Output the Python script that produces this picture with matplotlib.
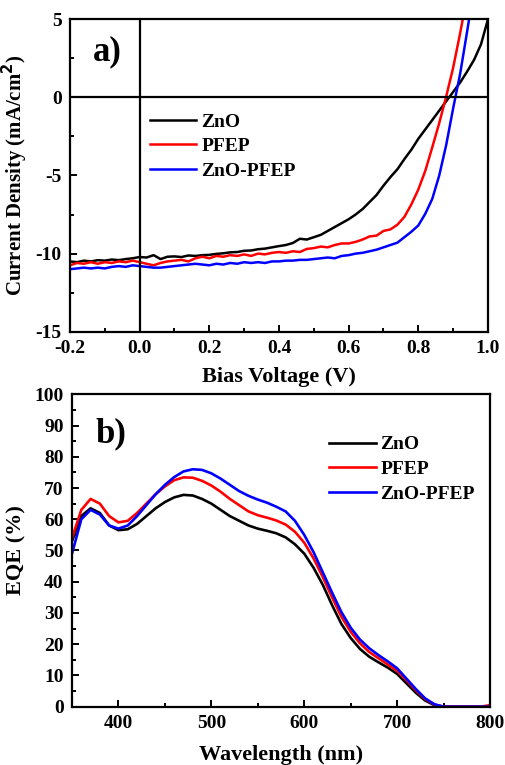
import numpy as np
import matplotlib
matplotlib.use('Agg')
import matplotlib.pyplot as plt
from matplotlib.ticker import MultipleLocator

plt.rcParams['font.family'] = ['Liberation Serif', 'DejaVu Serif']
plt.rcParams['font.weight'] = 'bold'
plt.rcParams['mathtext.default'] = 'bf'
plt.rcParams['axes.unicode_minus'] = False

# J-V data (bias voltage in V, current density in mA/cm2)
voltage = [-0.20, -0.18, -0.16, -0.14, -0.12, -0.10, -0.08, -0.06, -0.04, -0.02,
           0.00, 0.02, 0.04, 0.06, 0.08, 0.10, 0.12, 0.14, 0.16, 0.18,
           0.20, 0.22, 0.24, 0.26, 0.28, 0.30, 0.32, 0.34, 0.36, 0.38,
           0.40, 0.42, 0.44, 0.46, 0.48, 0.50, 0.52, 0.54, 0.56, 0.58,
           0.60, 0.62, 0.64, 0.66, 0.68, 0.70, 0.72, 0.74, 0.76, 0.78,
           0.80, 0.82, 0.84, 0.86, 0.88, 0.90, 0.92, 0.94, 0.96, 0.98, 1.00]
j_zno = [-10.50, -10.55, -10.45, -10.50, -10.42, -10.45, -10.38, -10.42, -10.35, -10.30,
         -10.22, -10.25, -10.10, -10.35, -10.20, -10.18, -10.22, -10.12, -10.15, -10.10,
         -10.08, -10.02, -9.98, -9.92, -9.90, -9.82, -9.80, -9.72, -9.68, -9.60,
         -9.52, -9.45, -9.32, -9.05, -9.10, -8.95, -8.80, -8.55, -8.30, -8.05,
         -7.80, -7.50, -7.15, -6.70, -6.25, -5.65, -5.10, -4.60, -3.95, -3.35,
         -2.65, -2.05, -1.45, -0.85, -0.25, 0.35, 0.95, 1.65, 2.40, 3.40, 5.00]
j_pfep = [-10.75, -10.60, -10.65, -10.55, -10.65, -10.55, -10.60, -10.50, -10.55, -10.45,
          -10.55, -10.65, -10.75, -10.60, -10.50, -10.45, -10.40, -10.50, -10.30, -10.20,
          -10.30, -10.15, -10.20, -10.10, -10.15, -10.05, -10.15, -10.00, -10.05, -9.95,
          -9.90, -9.95, -9.85, -9.90, -9.70, -9.65, -9.55, -9.60, -9.45, -9.35,
          -9.35, -9.25, -9.10, -8.90, -8.85, -8.55, -8.45, -8.15, -7.65, -6.85,
          -5.90, -4.70, -3.20, -1.65, 0.05, 1.90, 4.10, 6.50, 9.00, 11.50, 14.00]
j_zno_pfep = [-11.00, -10.95, -10.90, -10.95, -10.90, -10.95, -10.85, -10.80, -10.85, -10.75,
              -10.80, -10.85, -10.90, -10.90, -10.85, -10.80, -10.75, -10.70, -10.65, -10.70,
              -10.75, -10.65, -10.70, -10.60, -10.65, -10.55, -10.60, -10.55, -10.60, -10.50,
              -10.50, -10.45, -10.45, -10.40, -10.40, -10.35, -10.30, -10.25, -10.30, -10.15,
              -10.10, -10.00, -9.95, -9.85, -9.75, -9.60, -9.45, -9.30, -8.95, -8.60,
              -8.20, -7.45, -6.50, -5.00, -3.05, -0.70, 1.50, 4.20, 7.00, 10.00, 13.00]

# EQE data (wavelength in nm, EQE in %)
wavelength = [350, 360, 370, 380, 390, 400, 410, 420, 430, 440, 450, 460, 470, 480, 490,
              500, 510, 520, 530, 540, 550, 560, 570, 580, 590, 600, 610, 620, 630, 640,
              650, 660, 670, 680, 690, 700, 710, 720, 730, 740, 750, 760, 770, 780, 790, 800]
eqe_zno = [53.0, 61.0, 63.5, 62.0, 58.0, 56.5, 56.8, 58.5, 61.0, 63.5, 65.5, 67.0, 67.8, 67.6, 66.5,
           65.0, 63.0, 61.0, 59.5, 58.0, 57.0, 56.3, 55.5, 54.2, 52.0, 49.0, 44.5, 39.0, 32.5, 26.5,
           22.0, 18.5, 16.0, 14.2, 12.5, 10.5, 7.5, 4.5, 2.0, 0.5, 0.0, 0.0, 0.0, 0.0, 0.0, 0.0]
eqe_pfep = [54.0, 63.0, 66.5, 65.0, 61.0, 59.0, 59.5, 62.0, 65.0, 68.0, 70.5, 72.5, 73.4, 73.3, 72.3,
            70.8, 68.8, 66.5, 64.5, 62.5, 61.3, 60.5, 59.6, 58.3, 56.0, 52.5, 47.5, 41.5, 35.0, 28.8,
            24.0, 20.3, 17.5, 15.5, 13.5, 11.5, 8.5, 5.3, 2.5, 0.7, 0.0, 0.0, 0.0, 0.0, 0.0, 0.5]
eqe_zno_pfep = [49.0, 60.0, 63.0, 61.5, 58.0, 57.0, 58.0, 61.0, 64.5, 68.0, 71.0, 73.5, 75.3, 76.0, 75.8,
                74.7, 73.0, 71.0, 69.0, 67.5, 66.3, 65.3, 64.0, 62.5, 59.5, 55.0, 49.5, 43.0, 36.5, 30.3,
                25.3, 21.5, 18.7, 16.5, 14.5, 12.3, 9.0, 5.7, 2.7, 0.8, 0.0, 0.0, 0.0, 0.0, 0.0, 0.0]

labels = ['ZnO', 'PFEP', 'ZnO-PFEP']
colors = ['black', 'red', 'blue']


def style_axis(ax):
    for sp in ax.spines.values():
        sp.set_linewidth(1.6)
    ax.tick_params(which='both', direction='in', width=1.4, labelsize=14, pad=6)
    ax.tick_params(which='major', length=5)
    ax.tick_params(which='minor', length=3)
    for lab in ax.get_xticklabels() + ax.get_yticklabels():
        lab.set_fontweight('bold')


fig = plt.figure(figsize=(5.05, 7.65), dpi=100)

# a) J-V
ax1 = fig.add_axes([0.1386, 0.5664, 0.8277, 0.4084])
for j, lab, c in zip([j_zno, j_pfep, j_zno_pfep], labels, colors):
    ax1.plot(voltage, j, color=c, lw=1.8, label=lab)
ax1.axhline(0, color='black', lw=1.6)
ax1.axvline(0, color='black', lw=1.6)
ax1.set_xlim(-0.2, 1.0)
ax1.set_ylim(-15, 5)
ax1.xaxis.set_minor_locator(MultipleLocator(0.1))
ax1.yaxis.set_major_locator(MultipleLocator(5))
ax1.yaxis.set_minor_locator(MultipleLocator(2.5))
ax1.set_xticks(np.round(np.arange(-0.2, 1.01, 0.2), 1))
ax1.set_xticklabels(['-0.2', '0.0', '0.2', '0.4', '0.6', '0.8', '1.0'])
ax1.set_xlabel('Bias Voltage (V)', fontsize=16, fontweight='bold', labelpad=7)
ax1.set_ylabel('Current Density (mA/cm$^2$)', fontsize=15, fontweight='bold', labelpad=4)
style_axis(ax1)
ax1.text(0.055, 0.95, 'a)', transform=ax1.transAxes, fontsize=25, fontweight='bold',
         va='top', ha='left')
ax1.legend(loc='upper left', bbox_to_anchor=(0.191, 0.70), frameon=False,
           handlelength=2.4, handletextpad=0.25, labelspacing=0.36, borderaxespad=0,
           borderpad=0, prop={'weight': 'bold', 'size': 14})

# b) EQE
ax2 = fig.add_axes([0.1426, 0.0762, 0.8277, 0.4084])
for e, lab, c in zip([eqe_zno, eqe_pfep, eqe_zno_pfep], labels, colors):
    ax2.plot(wavelength, e, color=c, lw=1.9, label=lab)
ax2.set_xlim(350, 800)
ax2.set_ylim(0, 100)
ax2.set_xticks([400, 500, 600, 700, 800])
ax2.xaxis.set_minor_locator(MultipleLocator(50))
ax2.yaxis.set_major_locator(MultipleLocator(10))
ax2.yaxis.set_minor_locator(MultipleLocator(5))
ax2.set_xlabel('Wavelength (nm)', fontsize=16, fontweight='bold', labelpad=9)
ax2.set_ylabel('EQE (%)', fontsize=16, fontweight='bold', labelpad=6)
style_axis(ax2)
ax2.text(0.055, 0.925, 'b)', transform=ax2.transAxes, fontsize=25, fontweight='bold',
         va='top', ha='left')
ax2.legend(loc='upper left', bbox_to_anchor=(0.615, 0.867), frameon=False,
           handlelength=2.4, handletextpad=0.25, labelspacing=0.36, borderaxespad=0,
           borderpad=0, prop={'weight': 'bold', 'size': 14})

fig.savefig('out.png', dpi=100)
